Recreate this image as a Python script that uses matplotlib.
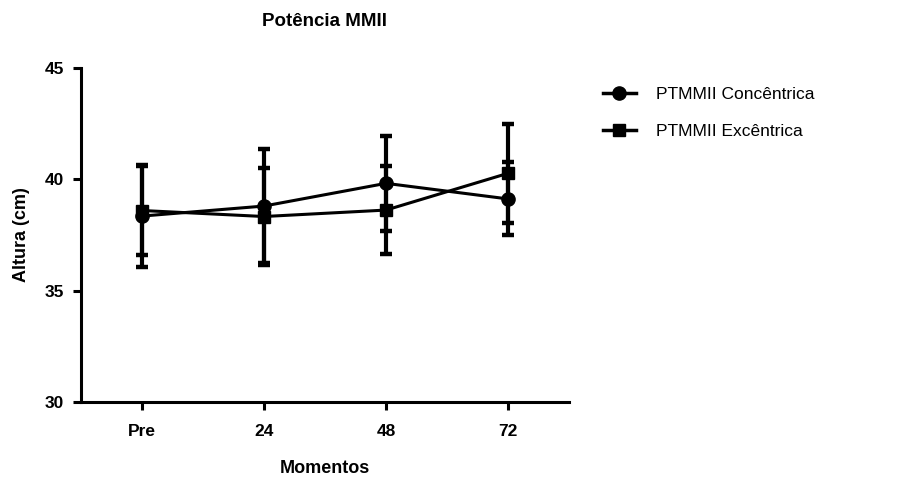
import matplotlib
matplotlib.use("Agg")
import matplotlib.pyplot as plt
from matplotlib.lines import Line2D

plt.rcParams['font.family'] = ['Liberation Sans', 'DejaVu Sans']

categories = ["Pre", "24", "48", "72"]
conc_mean = [38.35, 38.8, 39.82, 39.12]
conc_sd = [2.3, 2.55, 2.13, 1.64]
exc_mean = [38.6, 38.33, 38.62, 40.27]
exc_sd = [2.0, 2.17, 1.99, 2.23]
series_names = ["PTMMII Concêntrica", "PTMMII Excêntrica"]
yticks = [30, 35, 40, 45]

fig = plt.figure(figsize=(8.98, 4.78), dpi=100)
W, H = 898, 478
ax = fig.add_axes([81 / W, 1 - 402 / H, (569 - 81) / W, (402 - 68) / H])

x = list(range(len(categories)))
for mean, sd, mk in [(conc_mean, conc_sd, 'o'), (exc_mean, exc_sd, 's')]:
    ax.errorbar(x, mean, yerr=sd, color='black', marker=mk, markersize=9.5 if mk == 'o' else 9,
                lw=2.2, elinewidth=3, capsize=4.5, capthick=3.2, zorder=3)

ax.set_xlim(-0.5, 3.5)
ax.set_ylim(30, 45)
ax.set_yticks(yticks)
ax.set_xticks(x)
ax.set_xticklabels(categories)
for s in ['top', 'right']:
    ax.spines[s].set_visible(False)
for s in ['left', 'bottom']:
    ax.spines[s].set_linewidth(2.2)
ax.tick_params(axis='both', width=2.2, length=6, labelsize=12.5)
ax.tick_params(axis='x', pad=10)
ax.tick_params(axis='y', pad=6)
for lab in ax.get_xticklabels() + ax.get_yticklabels():
    lab.set_fontweight('bold')

ax.set_xlabel("Momentos", fontsize=13, fontweight='bold', labelpad=15)
ax.set_ylabel("Altura (cm)", fontsize=13, fontweight='bold', labelpad=11)
fig.text(325 / W, 1 - 21.5 / H, "Potência MMII", ha='center', va='center',
         fontsize=13.5, fontweight='bold')

handles = [Line2D([], [], color='black', marker='o', markersize=9.5, lw=2.5),
           Line2D([], [], color='black', marker='s', markersize=9, lw=2.5)]
fig.legend(handles, series_names, loc='upper left', bbox_to_anchor=(587 / W, 1 - 71 / H),
           frameon=False, fontsize=12.5, handlelength=1.9, labelspacing=1.25, handletextpad=1.2)

fig.savefig("out.png", dpi=100)
